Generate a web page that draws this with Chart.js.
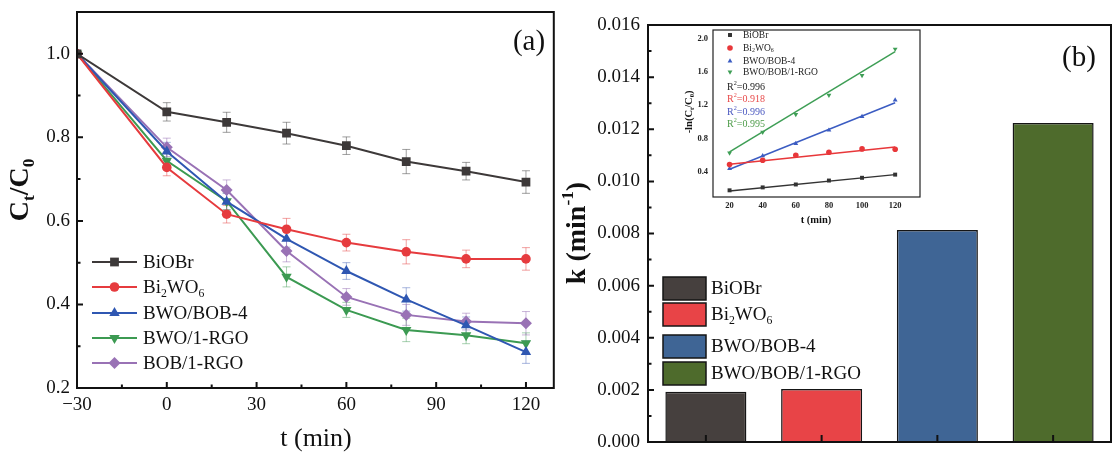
<!DOCTYPE html>
<html lang="en">
<head>
  <meta charset="UTF-8">
  <title>Photocatalytic degradation and rate constants</title>
  <script src="https://cdn.jsdelivr.net/npm/chart.js"></script>
  <style>
    body { margin: 0; background: #fff; }
    #wrap { position: relative; width: 1113px; height: 454px; overflow: hidden; }
    canvas { position: absolute; }
  </style>
</head>
<body>
  <div id="wrap">
    <canvas id="chartA" width="560" height="454" style="left:0;top:0"></canvas>
    <canvas id="chartB" width="553" height="454" style="left:560px;top:0"></canvas>
    <canvas id="inset" width="250" height="215" style="left:680px;top:20px"></canvas>
  </div>

  <script>
    // ---- panel (a): Ct/C0 vs time ----
    const times = [-30, 0, 20, 40, 60, 80, 100, 120];
    const sampleNames = ['BiOBr', 'Bi2WO6', 'BWO/BOB-4', 'BWO/1-RGO', 'BOB/1-RGO'];
    const biobr     = [1.0, 0.861, 0.836, 0.810, 0.780, 0.742, 0.719, 0.693];
    const bi2wo6    = [1.0, 0.728, 0.616, 0.580, 0.548, 0.526, 0.509, 0.509];
    const bwoBob4   = [1.0, 0.766, 0.646, 0.557, 0.480, 0.412, 0.350, 0.286];
    const bwoRgo    = [1.0, 0.744, 0.647, 0.466, 0.387, 0.339, 0.326, 0.307];
    const bobRgo    = [1.0, 0.776, 0.674, 0.528, 0.418, 0.375, 0.359, 0.355];
    const biobrErr   = [0, 0.022, 0.024, 0.026, 0.021, 0.029, 0.021, 0.027];
    const bi2wo6Err  = [0, 0.020, 0.021, 0.026, 0.020, 0.029, 0.021, 0.027];
    const bwoBob4Err = [0, 0.022, 0.020, 0.020, 0.020, 0.028, 0.020, 0.027];
    const bwoRgoErr  = [0, 0.020, 0.020, 0.024, 0.018, 0.028, 0.020, 0.025];
    const bobRgoErr  = [0, 0.022, 0.024, 0.026, 0.020, 0.025, 0.020, 0.028];
    const xTicksA = [-30, 0, 30, 60, 90, 120];
    const xTickLabelsA = ['\u221230', '0', '30', '60', '90', '120'];
    const xMinorA = [-15, 15, 45, 75, 105];
    const yTicksA = [0.2, 0.4, 0.6, 0.8, 1.0];
    const yMinorA = [0.3, 0.5, 0.7, 0.9];

    // ---- panel (b): rate constants ----
    const rateNames = ['BiOBr', 'Bi2WO6', 'BWO/BOB-4', 'BWO/BOB/1-RGO'];
    const rateK = [0.00193, 0.00203, 0.00813, 0.01224];
    const yTicksB = [0, 0.002, 0.004, 0.006, 0.008, 0.010, 0.012, 0.014, 0.016];
    const yMinorB = [0.001, 0.003, 0.005, 0.007, 0.009, 0.011, 0.013, 0.015];

    // ---- inset: -ln(Ct/C0) vs time ----
    const fitTimes = [20, 40, 60, 80, 100, 120];
    const lnBiobr   = [0.180, 0.215, 0.250, 0.297, 0.330, 0.368];
    const lnBi2wo6  = [0.488, 0.540, 0.600, 0.636, 0.676, 0.672];
    const lnBwoBob4 = [0.440, 0.592, 0.740, 0.900, 1.064, 1.260];
    const lnBwoBobRgo = [0.628, 0.876, 1.088, 1.320, 1.556, 1.872];
    const fitStart = [0.172, 0.492, 0.432, 0.640];
    const fitEnd   = [0.368, 0.700, 1.228, 1.840];
    const r2Values = ['0.996', '0.918', '0.996', '0.995'];
    const xTicksIn = [20, 40, 60, 80, 100, 120];
    const yTicksIn = [0.4, 0.8, 1.2, 1.6, 2.0];

    const SERIF = "'Liberation Serif', 'Times New Roman', serif";
    Chart.defaults.font.family = SERIF;
    Chart.defaults.color = '#111';
    Chart.defaults.animation = false;

    const valuesA = [biobr, bi2wo6, bwoBob4, bwoRgo, bobRgo];
    const errsA = [biobrErr, bi2wo6Err, bwoBob4Err, bwoRgoErr, bobRgoErr];
    const styleA = [
      { color: '#3d3939', err: 'rgba(80,80,80,0.55)',  shape: 'rect',        r: 6.2 },
      { color: '#e63b3e', err: 'rgba(230,70,70,0.5)',  shape: 'circle',      r: 4.8 },
      { color: '#2f57b2', err: 'rgba(60,90,180,0.45)', shape: 'triangle',    r: 6 },
      { color: '#3c9a52', err: 'rgba(60,150,80,0.45)', shape: 'triangleDown', r: 6 },
      { color: '#9972b5', err: 'rgba(150,110,180,0.5)', shape: 'rectRot',    r: 6 }
    ];
    const barColors = ['#46403e', '#e84447', '#3f6595', '#4e6b2c'];
    const insetColors = ['#333333', '#e8373a', '#3b5cc2', '#3e9e55'];
    const insetShapes = ['rect', 'circle', 'triangle', 'triangleDown'];
    const r2Colors = ['#222222', '#e84a4a', '#4a58c0', '#4c9b48'];

    // label text -> parts, digits that follow a letter become subscripts
    function formulaParts(s) {
      const parts = [];
      for (let i = 0; i < s.length; i++) {
        const kind = /\d/.test(s[i]) && i > 0 && /[A-Za-z]/.test(s[i - 1]) ? 'sub' : '';
        const last = parts[parts.length - 1];
        if (last && last[1] === kind) last[0] += s[i];
        else parts.push([s[i], kind]);
      }
      return parts;
    }

    function drawRich(ctx, parts, x, y, size, weight, align) {
      const fontFor = k => `${weight} ${k ? size * 0.62 : size}px ${SERIF}`;
      let w = 0;
      parts.forEach(([t, k]) => { ctx.font = fontFor(k); w += ctx.measureText(t).width; });
      let cx = align === 'center' ? x - w / 2 : x;
      ctx.textAlign = 'left';
      ctx.textBaseline = 'middle';
      parts.forEach(([t, k]) => {
        ctx.font = fontFor(k);
        const dy = k === 'sub' ? size * 0.3 : k === 'sup' ? -size * 0.33 : 0;
        ctx.fillText(t, cx, y + dy);
        cx += ctx.measureText(t).width;
      });
    }

    function drawRichRotated(ctx, parts, cx, cy, size, weight) {
      ctx.save();
      ctx.translate(cx, cy);
      ctx.rotate(-Math.PI / 2);
      drawRich(ctx, parts, 0, 0, size, weight, 'center');
      ctx.restore();
    }

    function drawMarker(ctx, shape, x, y, r, color) {
      ctx.save();
      ctx.fillStyle = color;
      ctx.beginPath();
      if (shape === 'rect') {
        const s = r * Math.SQRT1_2;
        ctx.rect(x - s, y - s, 2 * s, 2 * s);
      } else if (shape === 'circle') {
        ctx.arc(x, y, r, 0, Math.PI * 2);
      } else if (shape === 'triangle' || shape === 'triangleDown') {
        const d = shape === 'triangle' ? 1 : -1;
        ctx.moveTo(x, y - d * r);
        ctx.lineTo(x + r * 0.866, y + d * r * 0.5);
        ctx.lineTo(x - r * 0.866, y + d * r * 0.5);
        ctx.closePath();
      } else {
        ctx.moveTo(x, y - r); ctx.lineTo(x + r, y);
        ctx.lineTo(x, y + r); ctx.lineTo(x - r, y);
        ctx.closePath();
      }
      ctx.fill();
      ctx.restore();
    }

    function drawFrame(chart, lw, color) {
      const { ctx, chartArea: a } = chart;
      ctx.save();
      ctx.strokeStyle = color || '#111';
      ctx.lineWidth = lw;
      ctx.strokeRect(a.left, a.top, a.right - a.left, a.bottom - a.top);
      ctx.restore();
    }

    function drawInnerTicks(chart, axis, values, len, lw) {
      const { ctx, chartArea: a } = chart;
      const s = chart.scales[axis];
      ctx.save();
      ctx.strokeStyle = '#111';
      ctx.lineWidth = lw;
      ctx.beginPath();
      values.forEach(v => {
        const p = s.getPixelForValue(v);
        if (axis === 'x') { ctx.moveTo(p, a.bottom); ctx.lineTo(p, a.bottom - len); }
        else { ctx.moveTo(a.left, p); ctx.lineTo(a.left + len, p); }
      });
      ctx.stroke();
      ctx.restore();
    }

    function pointStyleOf(shape) {
      return shape === 'triangleDown' ? 'triangle' : shape;
    }

    // fixed axis sizes, and no extra label padding so the plot box lands where we want it
    function fixX(h) {
      return s => { s.height = h; s.paddingLeft = 0; s.paddingRight = 0; };
    }
    function fixY(w) {
      return s => { s.width = w; s.paddingTop = 0; s.paddingBottom = 0; };
    }

    const noGrid = { display: false, drawTicks: false };

    // ---------- chart (a) ----------
    const panelA = {
      id: 'panelA',
      beforeDatasetsDraw(chart) {
        const { ctx, scales: { x, y } } = chart;
        ctx.save();
        ctx.lineWidth = 1;
        errsA.forEach((errs, i) => {
          ctx.strokeStyle = styleA[i].err;
          ctx.beginPath();
          times.forEach((t, j) => {
            if (!errs[j]) return;
            const px = x.getPixelForValue(t);
            const top = y.getPixelForValue(valuesA[i][j] + errs[j]);
            const bot = y.getPixelForValue(valuesA[i][j] - errs[j]);
            ctx.moveTo(px, top); ctx.lineTo(px, bot);
            ctx.moveTo(px - 4, top); ctx.lineTo(px + 4, top);
            ctx.moveTo(px - 4, bot); ctx.lineTo(px + 4, bot);
          });
          ctx.stroke();
        });
        ctx.restore();
      },
      afterDraw(chart) {
        const ctx = chart.ctx;
        drawFrame(chart, 2);
        drawInnerTicks(chart, 'x', xTicksA, 6, 2);
        drawInnerTicks(chart, 'x', xMinorA, 3.5, 2);
        drawInnerTicks(chart, 'y', yTicksA, 6, 2);
        drawInnerTicks(chart, 'y', yMinorA, 3.5, 2);

        // legend
        const rows = [262, 287, 313, 338, 363];
        ctx.save();
        sampleNames.forEach((name, i) => {
          const st = styleA[i];
          ctx.strokeStyle = st.color;
          ctx.lineWidth = 2;
          ctx.beginPath();
          ctx.moveTo(92, rows[i]); ctx.lineTo(137, rows[i]);
          ctx.stroke();
          drawMarker(ctx, st.shape, 114.5, rows[i], st.r, st.color);
          ctx.fillStyle = '#111';
          drawRich(ctx, formulaParts(name), 143, rows[i] + 1, 19, 'normal', 'left');
        });

        ctx.fillStyle = '#111';
        drawRich(ctx, [['t (min)', '']], 316, 439, 26, 'normal', 'center');
        drawRichRotated(ctx, [['C', ''], ['t', 'sub'], ['/C', ''], ['0', 'sub']], 21, 190, 28, 'bold');
        drawRich(ctx, [['(a)', '']], 529, 42, 29, 'normal', 'center');
        ctx.restore();
      }
    };

    new Chart(document.getElementById('chartA'), {
      type: 'line',
      data: {
        datasets: sampleNames.map((name, i) => ({
          label: name,
          data: times.map((t, j) => ({ x: t, y: valuesA[i][j] })),
          borderColor: styleA[i].color,
          backgroundColor: styleA[i].color,
          borderWidth: 2,
          tension: 0,
          pointStyle: pointStyleOf(styleA[i].shape),
          rotation: styleA[i].shape === 'triangleDown' ? 180 : 0,
          pointRadius: styleA[i].r,
          pointBorderWidth: 0
        }))
      },
      options: {
        responsive: false,
        animation: false,
        layout: { padding: { left: 0, right: 4, top: 12, bottom: 0 } },
        plugins: { legend: { display: false }, tooltip: { enabled: false } },
        scales: {
          x: {
            type: 'linear', min: -30, max: 129.3,
            grid: noGrid, border: { display: false },
            afterBuildTicks: s => { s.ticks = xTicksA.map(v => ({ value: v })); },
            ticks: { font: { size: 19 }, color: '#111', padding: 6, maxRotation: 0, autoSkip: false,
                     callback: (v, i) => xTickLabelsA[i] },
            afterFit: fixX(66)
          },
          y: {
            type: 'linear', min: 0.2, max: 1.1,
            grid: noGrid, border: { display: false },
            afterBuildTicks: s => { s.ticks = yTicksA.map(v => ({ value: v })); },
            ticks: { font: { size: 19 }, color: '#111', padding: 7, callback: v => v.toFixed(1) },
            afterFit: fixY(77)
          }
        }
      },
      plugins: [panelA]
    });

    // ---------- chart (b) ----------
    const panelB = {
      id: 'panelB',
      afterDraw(chart) {
        const ctx = chart.ctx;
        drawFrame(chart, 2);
        drawInnerTicks(chart, 'x', rateNames.map((n, i) => i), 7, 2);
        drawInnerTicks(chart, 'y', yTicksB, 6, 2);
        drawInnerTicks(chart, 'y', yMinorB, 3.5, 2);

        const tops = [277, 303, 335, 362];
        ctx.save();
        rateNames.forEach((name, i) => {
          ctx.fillStyle = barColors[i];
          ctx.fillRect(103, tops[i], 43, 23);
          ctx.strokeStyle = '#151515';
          ctx.lineWidth = 1.5;
          ctx.strokeRect(103, tops[i], 43, 23);
          ctx.fillStyle = '#111';
          drawRich(ctx, formulaParts(name), 151, tops[i] + 12, 19, 'normal', 'left');
        });
        ctx.fillStyle = '#111';
        drawRichRotated(ctx, [['k (min', ''], ['-1', 'sup'], [')', '']], 18, 233, 28, 'bold');
        drawRich(ctx, [['(b)', '']], 519, 58, 29, 'normal', 'center');
        ctx.restore();
      }
    };

    new Chart(document.getElementById('chartB'), {
      type: 'bar',
      data: {
        labels: rateNames,
        datasets: [{
          data: rateK,
          backgroundColor: barColors,
          borderColor: '#151515',
          borderWidth: 1.5,
          barPercentage: 0.7,
          categoryPercentage: 1
        }]
      },
      options: {
        responsive: false,
        animation: false,
        layout: { padding: { left: 0, right: 2, top: 25, bottom: 0 } },
        plugins: { legend: { display: false }, tooltip: { enabled: false } },
        scales: {
          x: {
            grid: noGrid, border: { display: false },
            ticks: { display: false },
            afterFit: fixX(12)
          },
          y: {
            min: 0, max: 0.016,
            grid: noGrid, border: { display: false },
            afterBuildTicks: s => { s.ticks = yTicksB.map(v => ({ value: v })); },
            ticks: { font: { size: 19 }, color: '#111', padding: 8, callback: v => v.toFixed(3) },
            afterFit: fixY(88)
          }
        }
      },
      plugins: [panelB]
    });

    // ---------- inset ----------
    const lnSeries = [lnBiobr, lnBi2wo6, lnBwoBob4, lnBwoBobRgo];
    const insetPlugin = {
      id: 'insetPlugin',
      afterDraw(chart) {
        const ctx = chart.ctx;
        drawFrame(chart, 1.2, '#222');
        const rows = [15, 28, 41, 52];
        ctx.save();
        rateNames.forEach((name, i) => {
          drawMarker(ctx, insetShapes[i], 50, rows[i], 2.8, insetColors[i]);
          ctx.fillStyle = '#222';
          drawRich(ctx, formulaParts(name), 63, rows[i], 9.5, 'normal', 'left');
        });
        const r2Rows = [67, 79, 92, 104];
        r2Values.forEach((v, i) => {
          ctx.fillStyle = r2Colors[i];
          drawRich(ctx, [['R', ''], ['2', 'sup'], ['=' + v, '']], 47, r2Rows[i], 10, 'normal', 'left');
        });
        ctx.fillStyle = '#111';
        drawRichRotated(ctx, [['-ln(C', ''], ['t', 'sub'], ['/C', ''], ['0', 'sub'], [')', '']], 9, 92, 10.5, 'bold');
        drawRich(ctx, [['t (min)', '']], 136, 200, 10.5, 'bold', 'center');
        ctx.restore();
      }
    };

    new Chart(document.getElementById('inset'), {
      type: 'scatter',
      data: {
        datasets: [
          ...lnSeries.map((vals, i) => ({
            data: fitTimes.map((t, j) => ({ x: t, y: vals[j] })),
            showLine: false,
            backgroundColor: insetColors[i],
            borderColor: insetColors[i],
            pointStyle: pointStyleOf(insetShapes[i]),
            rotation: insetShapes[i] === 'triangleDown' ? 180 : 0,
            pointRadius: 2.8,
            pointBorderWidth: 0
          })),
          ...fitStart.map((y0, i) => ({
            data: [{ x: fitTimes[0], y: y0 }, { x: fitTimes[fitTimes.length - 1], y: fitEnd[i] }],
            showLine: true,
            borderColor: insetColors[i],
            borderWidth: 1.5,
            pointRadius: 0
          }))
        ]
      },
      options: {
        responsive: false,
        animation: false,
        layout: { padding: { left: 0, right: 10, top: 10, bottom: 0 } },
        plugins: { legend: { display: false }, tooltip: { enabled: false } },
        scales: {
          x: {
            type: 'linear', min: 10, max: 135,
            grid: noGrid, border: { display: false },
            afterBuildTicks: s => { s.ticks = xTicksIn.map(v => ({ value: v })); },
            ticks: { font: { size: 8.5, weight: 'bold' }, color: '#222', padding: 4, maxRotation: 0, autoSkip: false },
            afterFit: fixX(38)
          },
          y: {
            type: 'linear', min: 0.1, max: 2.1,
            grid: noGrid, border: { display: false },
            afterBuildTicks: s => { s.ticks = yTicksIn.map(v => ({ value: v })); },
            ticks: { font: { size: 8.5, weight: 'bold' }, color: '#222', padding: 5, callback: v => v.toFixed(1) },
            afterFit: fixY(33)
          }
        }
      },
      plugins: [insetPlugin]
    });
  </script>
</body>
</html>
